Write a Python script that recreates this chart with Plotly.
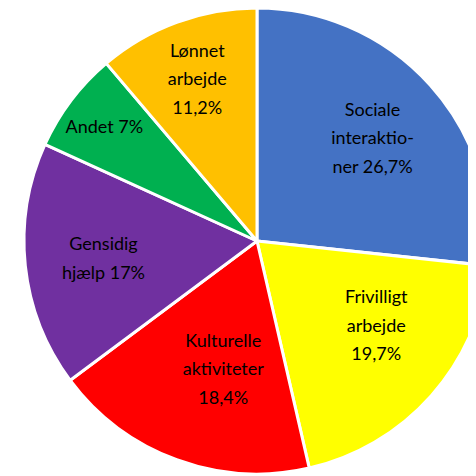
import plotly.graph_objects as go

categories = ["Sociale interaktioner", "Frivilligt arbejde", "Kulturelle aktiviteter",
              "Gensidig hjælp", "Andet", "Lønnet arbejde"]
values = [26.7, 19.7, 18.4, 17.0, 7.0, 11.2]
label_lines = [["Sociale", "interaktio-", "ner 26,7%"],
               ["Frivilligt", "arbejde", "19,7%"],
               ["Kulturelle", "aktiviteter", "18,4%"],
               ["Gensidig", "hjælp 17%"],
               ["Andet 7%"],
               ["Lønnet", "arbejde", "11,2%"]]
colors = ["#4472C4", "#FFFF00", "#FF0000", "#7030A0", "#00B050", "#FFC000"]

# label placement nudges (leading non-breaking spaces, extra blank lines below)
label_nudge = [(7, 1), (4, 1), (8, 1), (0, 0), (0, 0), (0, 0)]

glyph_size = 18
NBSP = "\u00a0"


def build_label(lines, nudge):
    lead, extra = nudge
    parts = [f"<span style='font-size:{glyph_size}px'>{NBSP * lead}{ln}</span>" for ln in lines]
    parts += [f"<span style='font-size:{glyph_size}px'>{NBSP}</span>"] * extra
    return "<br>".join(parts)


texts = [build_label(l, n) for l, n in zip(label_lines, label_nudge)]

W, H = 498, 466
fig = go.Figure(go.Pie(
    labels=categories,
    values=values,
    text=texts,
    textinfo="text",
    textposition="inside",
    insidetextorientation="horizontal",
    sort=False,
    direction="clockwise",
    rotation=0,
    marker=dict(colors=colors, line=dict(color="white", width=3)),
    textfont=dict(family="Lato, Open Sans, sans-serif", size=22, color="black"),
    hoverinfo="label+percent",
    domain=dict(x=[0, 1], y=[0, 1]),
))
fig.update_layout(
    width=W, height=H,
    margin=dict(l=0, r=0, t=0, b=0),
    showlegend=False,
    paper_bgcolor="white",
    plot_bgcolor="white",
)
fig.write_html("out.html")
